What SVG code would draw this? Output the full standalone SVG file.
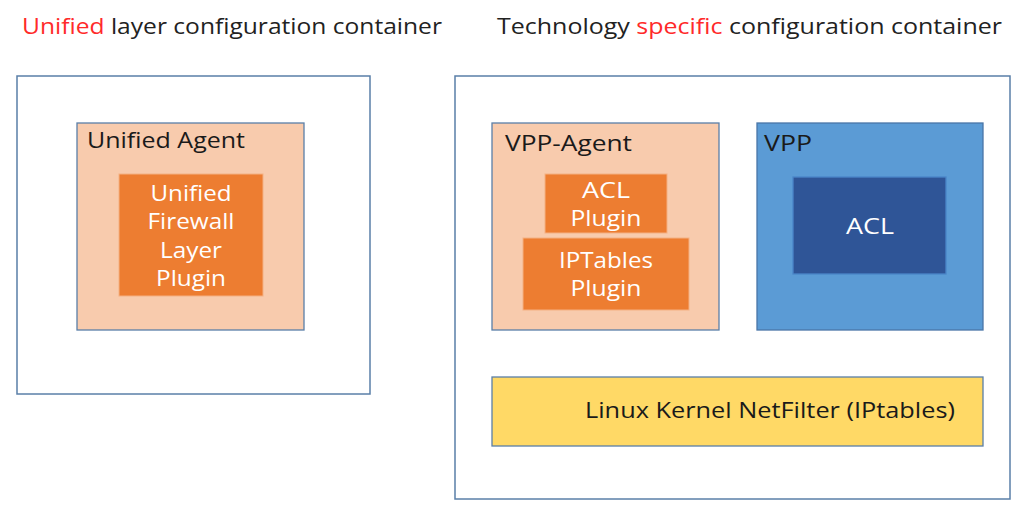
<svg xmlns="http://www.w3.org/2000/svg" width="1030" height="521" viewBox="0 0 1030 521">
<style>
.frame{fill:#ffffff;stroke:#5a7fa8;stroke-width:1.5}
.peach{fill:#f8cbad;stroke:#5a7fa8;stroke-width:1.3}
.orange{fill:#ed7d31;stroke:#f4b183;stroke-width:1}
.blue{fill:#5b9bd5;stroke:#4a76a8;stroke-width:1.3}
.dblue{fill:#2f5597;stroke:#4a86c8;stroke-width:1.3}
.yellow{fill:#ffd966;stroke:#5a7fa8;stroke-width:1.3}
text{font-family:"Open Sans","Noto Sans","Liberation Sans",sans-serif}
.title{font-size:22px;fill:#222222}
.red{fill:#ff2a2a}
.lbl{font-size:21px;fill:#1a1a1a}
.wt{font-size:21px;fill:#ffffff;text-anchor:middle}
</style>
<g id="title-left"><text class="title" x="22" y="34" textLength="420" lengthAdjust="spacingAndGlyphs"><tspan class="red">Unified</tspan> layer configuration container</text></g>
<g id="title-right"><text class="title" x="497" y="34" textLength="505" lengthAdjust="spacingAndGlyphs">Technology <tspan class="red">specific</tspan> configuration container</text></g>
<g id="unified-container"><rect class="frame" x="17" y="76" width="353" height="318"/></g>
<g id="unified-agent"><rect class="peach" x="77" y="123" width="227" height="207"/><text class="lbl" x="87" y="148" textLength="158" lengthAdjust="spacingAndGlyphs">Unified Agent</text></g>
<g id="unified-plugin"><rect class="orange" x="119" y="174" width="144" height="122"/>
<text class="wt" x="191" y="201" textLength="81" lengthAdjust="spacingAndGlyphs">Unified</text><text class="wt" x="191" y="229" textLength="87" lengthAdjust="spacingAndGlyphs">Firewall</text><text class="wt" x="191" y="258" textLength="62" lengthAdjust="spacingAndGlyphs">Layer</text><text class="wt" x="191" y="286" textLength="70" lengthAdjust="spacingAndGlyphs">Plugin</text></g>
<g id="tech-container"><rect class="frame" x="455" y="76" width="555" height="423"/></g>
<g id="vpp-agent"><rect class="peach" x="492" y="123" width="227" height="207"/><text class="lbl" x="505" y="151" textLength="127" lengthAdjust="spacingAndGlyphs">VPP-Agent</text></g>
<g id="acl-plugin"><rect class="orange" x="545" y="174" width="122" height="59"/><text class="wt" x="606" y="198" textLength="48" lengthAdjust="spacingAndGlyphs">ACL</text><text class="wt" x="606" y="226" textLength="71" lengthAdjust="spacingAndGlyphs">Plugin</text></g>
<g id="iptables-plugin"><rect class="orange" x="523" y="238" width="166" height="72"/><text class="wt" x="606" y="268" textLength="94" lengthAdjust="spacingAndGlyphs">IPTables</text><text class="wt" x="606" y="296" textLength="71" lengthAdjust="spacingAndGlyphs">Plugin</text></g>
<g id="vpp"><rect class="blue" x="757" y="123" width="226" height="207"/><text class="lbl" x="764" y="151" textLength="48" lengthAdjust="spacingAndGlyphs">VPP</text></g>
<g id="acl"><rect class="dblue" x="793" y="177" width="153" height="97"/><text class="wt" x="870" y="234" textLength="48" lengthAdjust="spacingAndGlyphs">ACL</text></g>
<g id="netfilter"><rect class="yellow" x="492" y="377" width="491" height="69"/><text class="lbl" x="585" y="418" textLength="370" lengthAdjust="spacingAndGlyphs">Linux Kernel NetFilter (IPtables)</text></g>
<g id="connectors"/>
</svg>
